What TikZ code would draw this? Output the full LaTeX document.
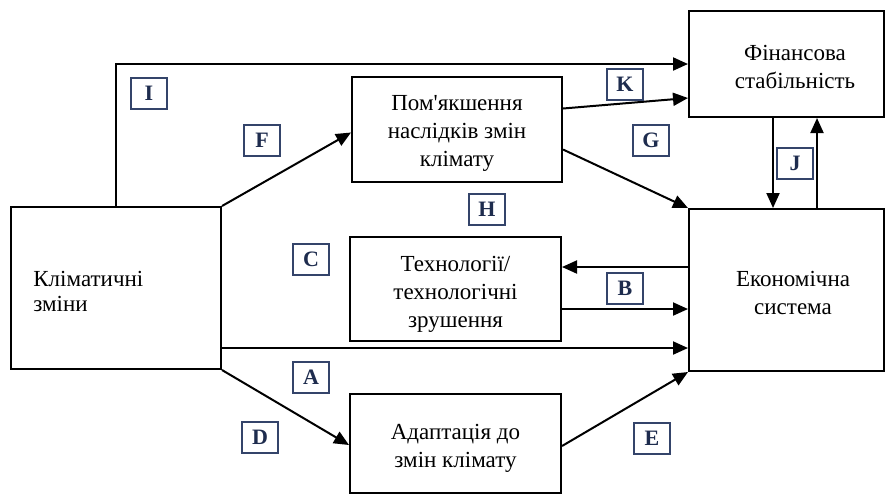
\documentclass[tikz,border=0pt]{standalone}
\usepackage{fontspec}
\setmainfont{Liberation Serif}
\usetikzlibrary{arrows.meta,calc}
\definecolor{labedge}{HTML}{34446A}
\definecolor{labtext}{HTML}{1E2C4E}
\tikzset{
  box/.style={draw, line width=1pt, inner sep=0pt},
  txt/.style={align=center, inner sep=0pt, font=\fontsize{11.5}{14}\selectfont},
  lab/.style={draw=labedge, line width=1pt, fill=white, inner sep=0pt,
    minimum width=18pt, minimum height=15.5pt, text=labtext,
    font=\fontsize{11}{12}\selectfont\bfseries},
  arr/.style={line width=1pt, -{Triangle[length=7.5pt,width=6.5pt]}},
  ln/.style={line width=1pt}
}
\begin{document}
\begin{tikzpicture}[x=0.5pt,y=-0.5pt]
\useasboundingbox (0,0) rectangle (886,495);
% boxes
\node[box, minimum width=105pt, minimum height=81pt] (clim) at (116,288) {};
\node[box, minimum width=105pt, minimum height=52.5pt] (mit) at (457,129.5) {};
\node[box, minimum width=97.5pt, minimum height=53pt] (fin) at (786.5,64) {};
\node[box, minimum width=97.5pt, minimum height=81pt] (eco) at (786.5,290) {};
\node[box, minimum width=105.5pt, minimum height=52pt] (tech) at (455.5,289) {};
\node[box, minimum width=105.5pt, minimum height=49.5pt] (adapt) at (455.5,443.5) {};
% texts
\node[txt, align=left, anchor=west, font=\fontsize{11.5}{12.5}\selectfont] (climt) at (33,291) {Кліматичні\\зміни};
\node[txt] (mitt) at (457,133) {Пом\textquotesingle якшення\\наслідків змін\\клімату};
\node[txt] (fint) at (795,67) {Фінансова\\стабільність};
\node[txt] (ecot) at (793,293) {Економічна\\система};
\node[txt] (techt) at (455.5,294) {Технології/\\технологічні\\зрушення};
\node[txt] (adaptt) at (455.5,448) {Адаптація до\\змін клімату};
% connectors
\draw[arr] (clim.north) |- (fin.west);
\draw[arr] (clim.north east) -- ($(mit.west)+(0,3)$);
\draw[arr] ($(mit.east)+(0,-21)$) -- ($(fin.west)+(0,34)$);
\draw[arr] ($(mit.east)+(0,20)$) -- (eco.north west);
\draw[arr] ($(fin.south)+(-13.5,0)$) -- ($(eco.north)+(-13.5,0)$);
\draw[arr] ($(eco.north)+(30.5,0)$) -- ($(fin.south)+(30.5,0)$);
\path ($(eco.west)+(0,-23)$) coordinate (b1);
\path ($(eco.west)+(0,19)$) coordinate (b2);
\path ($(eco.west)+(0,58)$) coordinate (a1);
\draw[arr] (b1) -- (tech.east |- b1);
\draw[arr] (tech.east |- b2) -- (b2);
\draw[arr] (clim.east |- a1) -- (a1);
\draw[arr] (clim.south east) -- ($(adapt.west)+(0,1.5)$);
\draw[arr] ($(adapt.east)+(0,2.5)$) -- (eco.south west);
% labels
\node[lab] (lI) at (149,93) {I};
\node[lab] (lF) at (262,140) {F};
\node[lab] (lK) at (625,84) {K};
\node[lab] (lG) at (651,140) {G};
\node[lab] (lH) at (487,209) {H};
\node[lab] (lJ) at (795,163) {J};
\node[lab] (lC) at (311,259) {C};
\node[lab] (lA) at (311,377) {A};
\node[lab] (lD) at (260,437) {D};
\node[lab] (lB) at (625,288) {B};
\node[lab] (lE) at (652,438) {E};
\end{tikzpicture}
\end{document}
